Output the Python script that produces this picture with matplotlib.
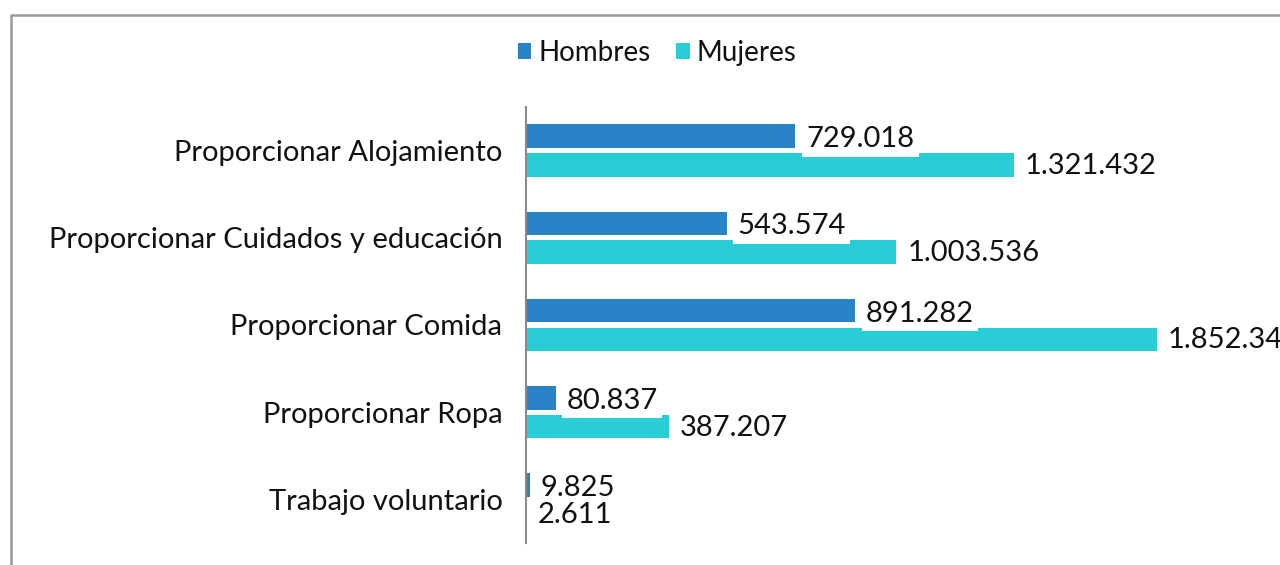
import matplotlib
matplotlib.use("Agg")
import matplotlib.pyplot as plt
from matplotlib.lines import Line2D

categories = ["Proporcionar Alojamiento", "Proporcionar Cuidados y educación",
              "Proporcionar Comida", "Proporcionar Ropa", "Trabajo voluntario"]
hombres = [729018, 543574, 891282, 80837, 9825]
mujeres = [1321432, 1003536, 1852344, 387207, 2611]
series_names = ["Hombres", "Mujeres"]
colors = ["#2884C7", "#29CDD6"]

def fmt(v):
    return f"{v:,}".replace(",", ".")

plt.rcParams['font.family'] = ['Lato', 'DejaVu Sans']
FS = 21

W, H = 1280, 565
fig = plt.figure(figsize=(W/100, H/100), dpi=100)
ax = fig.add_axes([526/W, 1-543/H, (1157-526)/W, (543-107)/H])

XMAX = 1710000
bh = 0.27
off = 0.165
ys = list(range(len(categories)))
for vals, name, col, d in [(hombres, series_names[0], colors[0], -off),
                           (mujeres, series_names[1], colors[1], off)]:
    pos = [y + d for y in ys]
    ax.barh(pos, vals, height=bh, color=col, label=name, clip_on=True)

for vals, d, dy in [(hombres, -off, 3), (mujeres, off, 1)]:
    for y, v in zip(ys, vals):
        ax.annotate(fmt(v), xy=(min(v, XMAX), y + d), xytext=(11, -dy),
                    textcoords='offset pixels', ha='left', va='center',
                    fontsize=FS, color='#111111', annotation_clip=False,
                    bbox=dict(boxstyle='square,pad=0.15', fc='white', ec='none'))

ax.set_xlim(0, XMAX)
ax.set_ylim(len(categories) - 0.5, -0.5)
ax.set_yticks(ys)
ax.set_yticklabels(categories, fontsize=FS, color='#111111')
ax.tick_params(axis='y', length=0, pad=17)
ax.set_xticks([])
for s in ['top', 'right', 'bottom']:
    ax.spines[s].set_visible(False)
ax.spines['left'].set_color('#8a8a8a')
ax.spines['left'].set_linewidth(1.5)

leg = fig.legend(loc='center', bbox_to_anchor=(657/W, 1-53/H), ncol=2, frameon=False,
                 fontsize=20, handlelength=0.5, handleheight=0.5, handletextpad=0.25,
                 columnspacing=0.9)
for t in leg.get_texts():
    t.set_color('#111111')

# outer frame
fig.add_artist(Line2D([11/W, 11/W, 1.01], [-0.01, 1-15/H, 1-15/H],
                      transform=fig.transFigure, color='#9a9a9a', lw=1.8))

fig.savefig("out.png", dpi=100)
